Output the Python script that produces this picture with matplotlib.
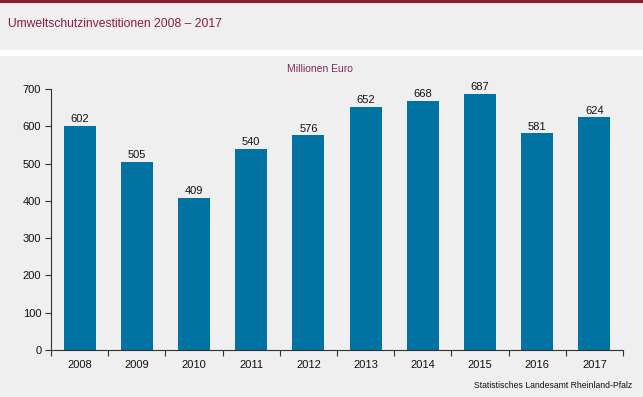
import matplotlib
matplotlib.use("Agg")
import matplotlib.pyplot as plt
from matplotlib.patches import Rectangle
import numpy as np

plt.rcParams['font.family'] = ['Liberation Sans', 'DejaVu Sans']

years = ['2008', '2009', '2010', '2011', '2012', '2013', '2014', '2015', '2016', '2017']
invest = [602, 505, 409, 540, 576, 652, 668, 687, 581, 624]

bar_col = '#0073a3'
bg = '#eeefee'
W, H = 643, 397

fig = plt.figure(figsize=(W / 100, H / 100), dpi=100)
fig.patch.set_facecolor('white')

# header band, dark red top line, chart panel
fig.patches.append(Rectangle((0, 1 - 50 / H), 1, 48 / H, transform=fig.transFigure,
                             facecolor=bg, edgecolor='none', zorder=-2))
fig.patches.append(Rectangle((0, 1 - 2.5 / H), 1, 2.5 / H, transform=fig.transFigure,
                             facecolor='#8b1a2e', edgecolor='none', zorder=-1))
fig.patches.append(Rectangle((0, 0), 1, 1 - 56 / H, transform=fig.transFigure,
                             facecolor=bg, edgecolor='none', zorder=-2))

fig.text(8 / W, 1 - 24 / H, 'Umweltschutzinvestitionen 2008 – 2017', color='#8b1a4a',
         fontsize=8.7, va='center', ha='left')
fig.text(320 / W, 1 - 69 / H, 'Millionen Euro', color='#7d2b5e', fontsize=7.5,
         va='center', ha='center')
fig.text(632 / W, 1 - 385 / H, 'Statistisches Landesamt Rheinland-Pfalz', color='#111111',
         fontsize=6.2, va='center', ha='right')

ax = fig.add_axes([51 / W, 1 - 350 / H, 572 / W, 261 / H])
ax.set_facecolor('none')
ax.set_zorder(5)

x = np.arange(len(years))
bars = ax.bar(x, invest, width=0.56, color=bar_col, zorder=2)
for xi, v in zip(x, invest):
    ax.text(xi, v + 4, str(v), ha='center', va='bottom', fontsize=8, color='#111111')

ax.set_xlim(-0.5, len(years) - 0.5)
ax.set_ylim(0, 700)
ax.set_yticks(range(0, 701, 100))
ax.set_xticks(x)
ax.set_xticklabels(years)
ax.set_xticks(np.arange(-0.5, len(years), 1), minor=True)
ax.tick_params(axis='x', which='major', length=0, pad=7, labelsize=8, colors='#111111')
ax.tick_params(axis='x', which='minor', length=4, width=0.8, color='#333333')
ax.tick_params(axis='y', length=4, width=0.8, color='#333333', labelsize=8,
               labelcolor='#111111', pad=3)

for s in ['top', 'right']:
    ax.spines[s].set_visible(False)
for s in ['left', 'bottom']:
    ax.spines[s].set_color('#333333')
    ax.spines[s].set_linewidth(0.8)

fig.savefig('out.png', dpi=100, facecolor=fig.get_facecolor())
